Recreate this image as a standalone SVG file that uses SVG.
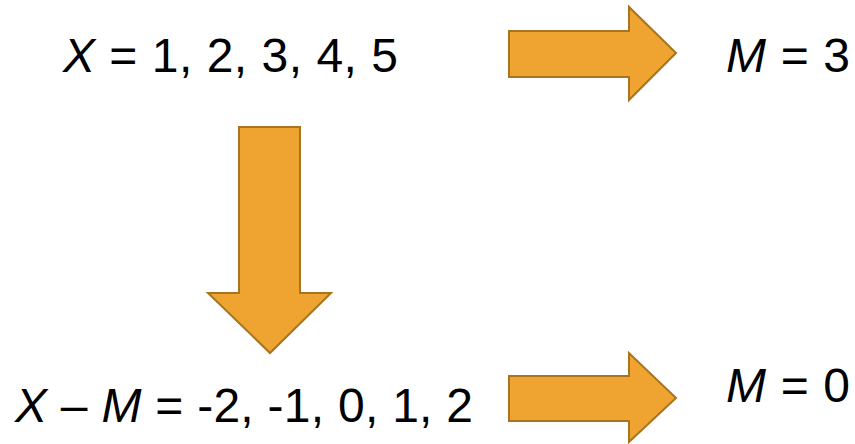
<svg xmlns="http://www.w3.org/2000/svg" width="855" height="444" viewBox="0 0 855 444">
<style>
.t{font-family:"Liberation Sans",Arial,sans-serif;font-size:48px;fill:#000}
.i{font-style:italic}
.arr{fill:#EFA431;stroke:#A8741F;stroke-width:2;stroke-linejoin:miter}
</style>
<rect width="855" height="444" fill="#fff"/>
<g id="n-x"><text class="t" x="63" y="72" textLength="335" lengthAdjust="spacing"><tspan class="i">X</tspan> = 1, 2, 3, 4, 5</text></g>
<g id="n-m3"><text class="t" x="726" y="72" textLength="124" lengthAdjust="spacing"><tspan class="i">M</tspan> = 3</text></g>
<g id="n-xm"><text class="t" x="15" y="422" textLength="458" lengthAdjust="spacing"><tspan class="i">X</tspan> – <tspan class="i">M</tspan> = -2, -1, 0, 1, 2</text></g>
<g id="n-m0"><text class="t" x="726" y="402" textLength="124" lengthAdjust="spacing"><tspan class="i">M</tspan> = 0</text></g>
<g id="connectors">
<polygon class="arr" points="509,31 629,31 629,7 676,53 629,100 629,77 509,77"/>
<polygon class="arr" points="239,127 300,127 300,293 331,293 270,353 208,293 239,293"/>
<polygon class="arr" points="509,376 629,376 629,353 676,398 629,442 629,421 509,421"/>
</g>
</svg>
